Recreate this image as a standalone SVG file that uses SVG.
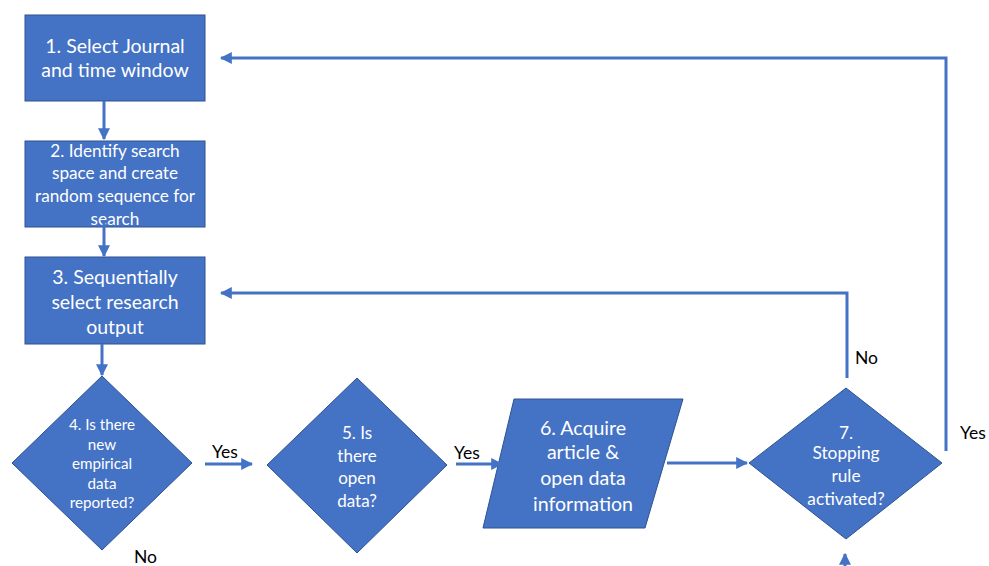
<svg xmlns="http://www.w3.org/2000/svg" width="989" height="566" viewBox="0 0 989 566">
<defs>
<style>
.node{fill:#4472C4;stroke:#2F528F;stroke-width:1}
.t{fill:#fff;font-family:Lato,"Open Sans",sans-serif;text-anchor:middle}
.lbl{fill:#000;font-family:Lato,"Open Sans",sans-serif;font-size:17.5px}
.c{fill:none;stroke:#4472C4;stroke-width:3}
</style>
<marker id="ah" viewBox="0 0 10 10" refX="9" refY="5" markerWidth="4" markerHeight="4" orient="auto" markerUnits="strokeWidth">
<path d="M0,0 L10,5 L0,10 z" fill="#4472C4"/>
</marker>
</defs>
<rect width="989" height="566" fill="#fff"/>
<g id="n1">
<rect class="node" x="25" y="15" width="180" height="86"/>
<text class="t" font-size="19.5"><tspan x="115" y="53">1. Select Journal</tspan><tspan x="115" y="77">and time window</tspan></text>
</g>
<g id="n2">
<rect class="node" x="25" y="141" width="180" height="86"/>
<text class="t" font-size="17.2"><tspan x="115" y="157">2. Identify search</tspan><tspan x="115" y="179">space and create</tspan><tspan x="115" y="202">random sequence for</tspan><tspan x="115" y="225">search</tspan></text>
</g>
<g id="n3">
<rect class="node" x="25" y="257" width="180" height="87"/>
<text class="t" font-size="19.5"><tspan x="115" y="284">3. Sequentially</tspan><tspan x="115" y="309">select research</tspan><tspan x="115" y="334">output</tspan></text>
</g>
<g id="n4">
<polygon class="node" points="102,376 192,463 102,550 12,463"/>
<text class="t" font-size="15.2"><tspan x="102" y="430">4. Is there</tspan><tspan x="102" y="450">new</tspan><tspan x="102" y="469">empirical</tspan><tspan x="102" y="489">data</tspan><tspan x="102" y="508">reported?</tspan></text>
</g>
<g id="n5">
<polygon class="node" points="357,378 447,465 357,553 267,465"/>
<text class="t" font-size="17"><tspan x="357" y="439">5. Is</tspan><tspan x="357" y="462">there</tspan><tspan x="357" y="484">open</tspan><tspan x="357" y="507">data?</tspan></text>
</g>
<g id="n6">
<polygon class="node" points="514,399 683,399 645,528 483,528"/>
<text class="t" font-size="19.6"><tspan x="583" y="435">6. Acquire</tspan><tspan x="583" y="459">article &amp;</tspan><tspan x="583" y="485">open data</tspan><tspan x="583" y="511">information</tspan></text>
</g>
<g id="n7">
<polygon class="node" points="846,388 942,463 846,539 749,463"/>
<text class="t" font-size="17.3"><tspan x="846" y="439">7.</tspan><tspan x="846" y="459">Stopping</tspan><tspan x="846" y="482">rule</tspan><tspan x="846" y="505">activated?</tspan></text>
</g>
<g id="connectors">
<path class="c" d="M104,101 V139" marker-end="url(#ah)"/>
<path class="c" d="M104,220 V256" marker-end="url(#ah)"/>
<path class="c" d="M102,344 V375" marker-end="url(#ah)"/>
<path class="c" d="M205,464 H252" marker-end="url(#ah)"/>
<path class="c" d="M456,464 H502" marker-end="url(#ah)"/>
<path class="c" d="M667,463 H747" marker-end="url(#ah)"/>
<path class="c" d="M847,378 V293 H221" marker-end="url(#ah)"/>
<path class="c" d="M946,451 V58 H221" marker-end="url(#ah)"/>
<path class="c" d="M845,566 V554" marker-end="url(#ah)"/>
</g>
<g id="labels">
<text class="lbl" x="212" y="458">Yes</text>
<text class="lbl" x="134" y="563">No</text>
<text class="lbl" x="454" y="459">Yes</text>
<text class="lbl" x="855" y="364">No</text>
<text class="lbl" x="960" y="439">Yes</text>
</g>
</svg>
